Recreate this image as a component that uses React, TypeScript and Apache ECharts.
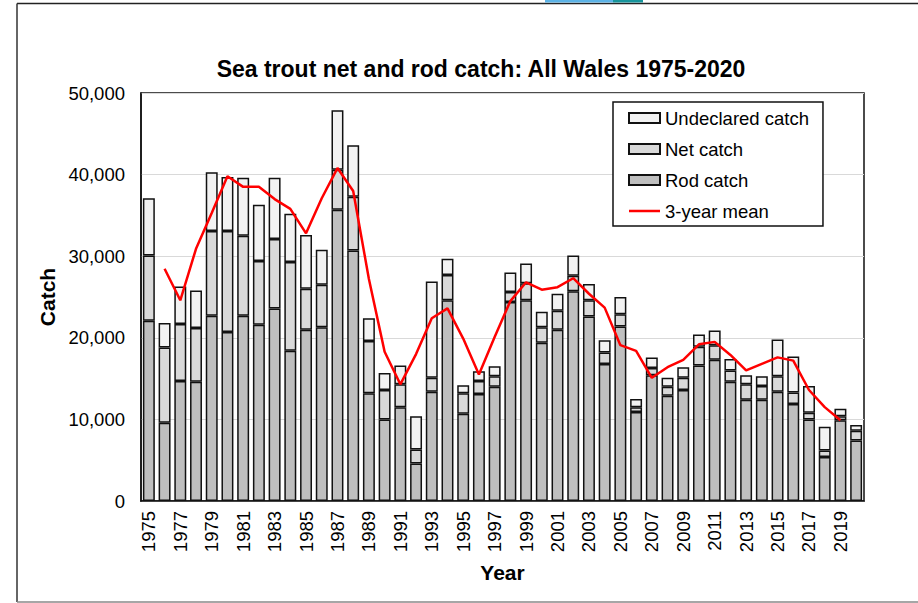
import React, { useEffect, useRef } from "react";
import * as echarts from "echarts";

const years = [
  "1975", "1976", "1977", "1978", "1979", "1980", "1981", "1982", "1983", "1984",
  "1985", "1986", "1987", "1988", "1989", "1990", "1991", "1992", "1993", "1994",
  "1995", "1996", "1997", "1998", "1999", "2000", "2001", "2002", "2003", "2004",
  "2005", "2006", "2007", "2008", "2009", "2010", "2011", "2012", "2013", "2014",
  "2015", "2016", "2017", "2018", "2019", "2020",
];

const rodCatch = [
  22100, 9600, 14700, 14600, 22700, 20700, 22700, 21600, 23600, 18400,
  21000, 21300, 35700, 30700, 13200, 10000, 11500, 4600, 13400, 24600,
  10700, 13100, 14000, 24400, 24600, 19400, 21000, 25700, 22600, 16800,
  21400, 10900, 15400, 12900, 13600, 16600, 17300, 14600, 12400, 12400,
  13400, 11900, 10000, 5400, 9900, 7400,
];

const netCatch = [
  8000, 9200, 7000, 6600, 10400, 12400, 9800, 7800, 8500, 10900,
  5000, 5200, 4900, 6600, 6400, 3600, 2800, 1700, 1700, 3100,
  2500, 1600, 1300, 1200, 2100, 1900, 2300, 1900, 2000, 1400,
  1500, 600, 900, 1100, 1500, 2300, 1800, 1400, 1900, 1700,
  1900, 1400, 800, 800, 500, 1200,
];

const undeclaredCatch = [
  7000, 3000, 4600, 4600, 7200, 6600, 7100, 6900, 7500, 5900,
  6600, 4300, 7300, 6300, 2800, 2100, 2300, 4100, 11800, 2000,
  1000, 1200, 1200, 2400, 2400, 1900, 2100, 2500, 2000, 1500,
  2100, 1000, 1300, 1100, 1300, 1500, 1800, 1400, 1100, 1200,
  4500, 4400, 3300, 2900, 900, 700,
];

const threeYearMean = [
  null, 28460, 24600, 30900, 35300, 39800, 38500, 38500, 37000, 35800,
  32800, 37100, 40800, 38000, 27200, 18300, 14300, 18000, 22400, 23600,
  19900, 15500, 20100, 24500, 26800, 25900, 26200, 27300, 25400, 23700,
  19100, 18400, 15100, 16400, 17300, 19200, 19500, 17900, 16000, 16800,
  17600, 17200, 13600, 11500, 9900, null,
];

const yTicks = [0, 10000, 20000, 30000, 40000, 50000];

const FONT = '"Liberation Sans", Arial, sans-serif';

export default function App() {
  const ref = useRef<HTMLDivElement>(null);

  useEffect(() => {
    if (!ref.current) return;
    const chart = echarts.init(ref.current, undefined, { renderer: "svg" });

    const barBorder = { borderColor: "#111", borderWidth: 1.5 };

    chart.setOption({
      animation: false,
      backgroundColor: "#fff",
      textStyle: { fontFamily: FONT },
      title: {
        text: "Sea trout net and rod catch: All Wales 1975-2020",
        left: 476,
        top: 52,
        textAlign: "center",
        textStyle: { fontFamily: FONT, fontSize: 23, fontWeight: "bold", color: "#000" },
      },
      legend: {
        orient: "vertical",
        left: 613,
        top: 102,
        padding: [6, 14, 5, 15],
        itemGap: 11,
        itemWidth: 31,
        itemHeight: 10,
        borderColor: "#111",
        borderWidth: 1.5,
        backgroundColor: "#fff",
        data: [
          { name: "Undeclared catch", icon: "rect" },
          { name: "Net catch", icon: "rect" },
          { name: "Rod catch", icon: "rect" },
          {
            name: "3-year mean",
            icon: "path://M0,0H31V2.5H0Z",
            itemStyle: { color: "#ff0000", borderWidth: 0 },
          },
        ],
        textStyle: { fontFamily: FONT, fontSize: 18.5, color: "#000", lineHeight: 20 },
      },
      grid: {
        left: 141,
        right: 54,
        top: 93,
        bottom: 102,
        show: true,
        borderColor: "#111",
        borderWidth: 1.5,
        backgroundColor: "transparent",
      },
      xAxis: {
        type: "category",
        data: years,
        name: "Year",
        nameLocation: "middle",
        nameGap: 61,
        nameTextStyle: { fontFamily: FONT, fontSize: 21, fontWeight: "bold", color: "#000" },
        axisLine: { lineStyle: { color: "#111", width: 1.5 } },
        axisTick: { show: false },
        axisLabel: {
          interval: 1,
          rotate: 90,
          margin: 10,
          fontFamily: FONT,
          fontSize: 18.5,
          color: "#000",
        },
      },
      yAxis: {
        type: "value",
        min: yTicks[0],
        max: yTicks[yTicks.length - 1],
        interval: yTicks[1] - yTicks[0],
        name: "Catch",
        nameLocation: "middle",
        nameGap: 78,
        nameRotate: 90,
        nameTextStyle: { fontFamily: FONT, fontSize: 21, fontWeight: "bold", color: "#000" },
        axisLine: { show: true, lineStyle: { color: "#111", width: 1.5 } },
        axisTick: { show: false },
        splitLine: { lineStyle: { color: "#d9d9d9", width: 1 } },
        axisLabel: {
          margin: 16,
          fontFamily: FONT,
          fontSize: 18.5,
          color: "#000",
          formatter: (v: number) => v.toLocaleString("en-GB"),
        },
      },
      series: [
        {
          name: "Rod catch",
          type: "bar",
          stack: "catch",
          barCategoryGap: "24%",
          data: rodCatch,
          itemStyle: { color: "#bfbfbf", ...barBorder },
        },
        {
          name: "Net catch",
          type: "bar",
          stack: "catch",
          data: netCatch,
          itemStyle: { color: "#d9d9d9", ...barBorder },
        },
        {
          name: "Undeclared catch",
          type: "bar",
          stack: "catch",
          data: undeclaredCatch,
          itemStyle: { color: "#f2f2f2", ...barBorder },
        },
        {
          name: "3-year mean",
          type: "line",
          data: threeYearMean,
          symbol: "none",
          z: 5,
          lineStyle: { color: "#ff0000", width: 2.5 },
          itemStyle: { color: "#ff0000" },
        },
      ],
      graphic: [
        // outer chart frame
        { type: "line", shape: { x1: 17, y1: 3.5, x2: 918, y2: 3.5 }, style: { stroke: "#222", lineWidth: 1.5 } },
        { type: "line", shape: { x1: 17, y1: 3.5, x2: 17, y2: 602 }, style: { stroke: "#333", lineWidth: 1.5 } },
        { type: "line", shape: { x1: 17, y1: 602, x2: 918, y2: 602 }, style: { stroke: "#888", lineWidth: 1.5 } },
        // logo sliver above the frame
        { type: "rect", shape: { x: 545, y: 0, width: 68, height: 2.5 }, style: { fill: "#5cb3e6" } },
        { type: "rect", shape: { x: 613, y: 0, width: 30, height: 2.5 }, style: { fill: "#17959c" } },
      ],
    });

    return () => chart.dispose();
  }, []);

  return (
    <div
      ref={ref}
      style={{ position: "fixed", left: 0, top: 0, width: 918, height: 603 }}
    />
  );
}
